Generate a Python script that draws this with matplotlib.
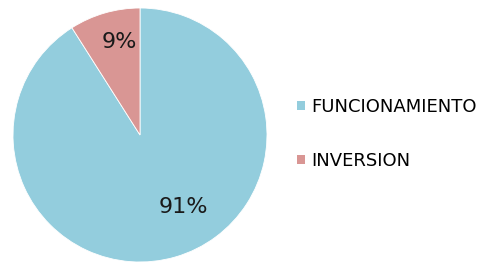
import matplotlib
matplotlib.use('Agg')
import matplotlib.pyplot as plt
from matplotlib.patches import Patch

labels = ["FUNCIONAMIENTO", "INVERSION"]
values = [91, 9]
colors = ["#93CDDD", "#D99694"]
# where Excel put the percentage labels (pie radius = 1)
label_pos = [(0.34, -0.57), (-0.16, 0.73)]

fig = plt.figure(figsize=(4.79, 2.63), dpi=100)
ax = fig.add_axes([13 / 479, 1 / 263, 254 / 479, 254 / 263])

wedges, texts, autotexts = ax.pie(values, colors=colors, startangle=90, counterclock=False,
                                  autopct="%1.0f%%", radius=1,
                                  wedgeprops=dict(edgecolor="white", linewidth=0.6),
                                  textprops=dict(fontsize=16, color="#1a1a1a"))
for t, pos in zip(autotexts, label_pos):
    t.set_position(pos)
ax.set_xlim(-1, 1)
ax.set_ylim(-1, 1)
ax.set_aspect("equal")

handles = [Patch(facecolor=c, edgecolor="none") for c in colors]
fig.legend(handles, labels, loc="center left", bbox_to_anchor=(297 / 479, 1 - 134 / 263),
           frameon=False, fontsize=13, handlelength=0.45, handleheight=0.45,
           handletextpad=0.35, labelspacing=2.0, borderpad=0, borderaxespad=0)

fig.savefig("out.png", dpi=100)
